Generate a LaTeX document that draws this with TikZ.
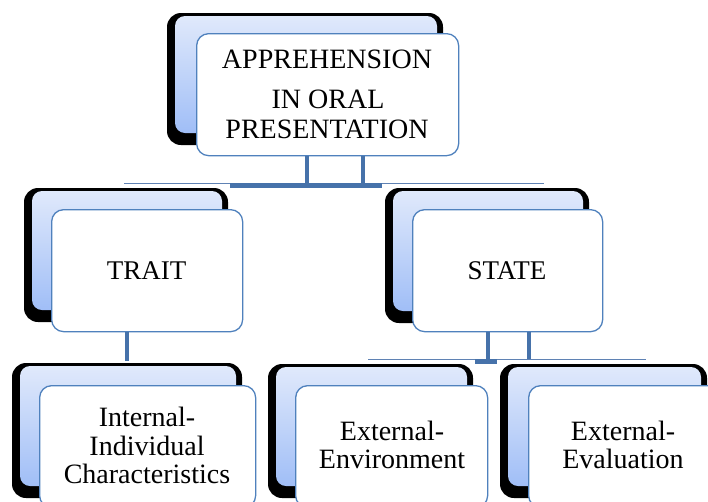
\documentclass[tikz,border=0pt]{standalone}
\usepackage{fontspec}
\setmainfont{Liberation Serif}
\definecolor{bluetop}{RGB}{224,233,251}
\definecolor{bluebot}{RGB}{160,190,247}
\definecolor{boxline}{RGB}{79,129,189}
\definecolor{connc}{RGB}{70,114,170}
\definecolor{thinc}{RGB}{95,130,180}
\tikzset{
  backblack/.style={fill=black, rounded corners=14pt},
  backblue/.style={top color=bluetop, bottom color=bluebot, rounded corners=10pt},
  frontbox/.style={draw=boxline, line width=1.3pt, fill=white, rounded corners=12pt, inner sep=0pt, anchor=north west},
  conn/.style={draw=connc, line width=4pt},
  hline/.style={draw=thinc, line width=0.8pt},
  lbl/.style={font=\fontsize{28}{30}\selectfont, anchor=base, inner sep=0pt},
  lblm/.style={font=\fontsize{27}{30}\selectfont, anchor=base, inner sep=0pt},
}
\newcommand\backpair[4]{%
  \fill[backblack] (#1-8,#2-3) rectangle (#3+6,#4+12);
  \shade[backblue] (#1,#2) rectangle (#3,#4);}
\begin{document}
\begin{tikzpicture}[x=1pt,y=-1pt]
\useasboundingbox (0,0) rectangle (708,501);
\clip (0,0) rectangle (708,501);
\fill[white] (0,0) rectangle (708,501);
% back boxes
\backpair{175}{16}{437}{133}
\backpair{32}{191}{222}{310}
\backpair{393}{191}{583}{311}
\backpair{20}{366}{236}{486}
\backpair{276}{367}{467}{486}
\backpair{508}{367}{701}{486}
% front boxes
\node[frontbox, minimum width=262pt, minimum height=122pt] (top) at (196,33) {};
\node[frontbox, minimum width=191pt, minimum height=122pt] (trait) at (51,209) {};
\node[frontbox, minimum width=190pt, minimum height=122pt] (state) at (412,209) {};
\node[frontbox, minimum width=216pt, minimum height=122pt] (internal) at (39,385) {};
\node[frontbox, minimum width=192pt, minimum height=122pt] (env) at (295,385) {};
\node[frontbox, minimum width=200pt, minimum height=122pt] (eval) at (528,385) {};
% texts
\node[lbl] (t1) at (327,68) {APPREHENSION};
\node[lbl] (t2) at (328,108) {IN ORAL};
\node[lbl] (t3) at (327,138) {PRESENTATION};
\node[lblm] (t4) at (146.5,279) {TRAIT};
\node[lblm] (t5) at (507,279) {STATE};
\node[lbl] (t6) at (147,426) {Internal-};
\node[lbl] (t7) at (147,455) {Individual};
\node[lbl] (t8) at (147,483) {Characteristics};
\node[lbl] (t9) at (392,440) {External-};
\node[lbl] (t10) at (392,468) {Environment};
\node[lbl] (t11) at (623,440) {External-};
\node[lbl] (t12) at (623,468) {Evaluation};
% connectors
\coordinate (bar1L) at (230,185.5);
\coordinate (bar1R) at (382,185.5);
\coordinate (bar2L) at (475,361.5);
\coordinate (bar2R) at (497,361.5);
\coordinate (h1L) at (124,183);
\coordinate (h1R) at (544,183);
\coordinate (h2L) at (368,359);
\coordinate (h2R) at (646,359);
\draw[hline] (h1L) -- (h1R);
\draw[hline] (h2L) -- (h2R);
\draw[conn] ([xshift=-21pt]top.south) -- ([xshift=-21pt]top.south |- bar1L);
\draw[conn] ([xshift=35pt]top.south) -- ([xshift=35pt]top.south |- bar1L);
\draw[conn, line width=5pt] (bar1L) -- (bar1R);
\draw[conn] ([xshift=-20.5pt]trait.south) -- ([xshift=-20.5pt,yshift=-29pt]trait.south);
\draw[conn] ([xshift=-20pt]state.south) -- ([xshift=-20pt]state.south |- bar2L);
\draw[conn] ([xshift=21pt]state.south) -- ([xshift=21pt]state.south |- h2L);
\draw[conn, line width=5pt] (bar2L) -- (bar2R);
\end{tikzpicture}
\end{document}
